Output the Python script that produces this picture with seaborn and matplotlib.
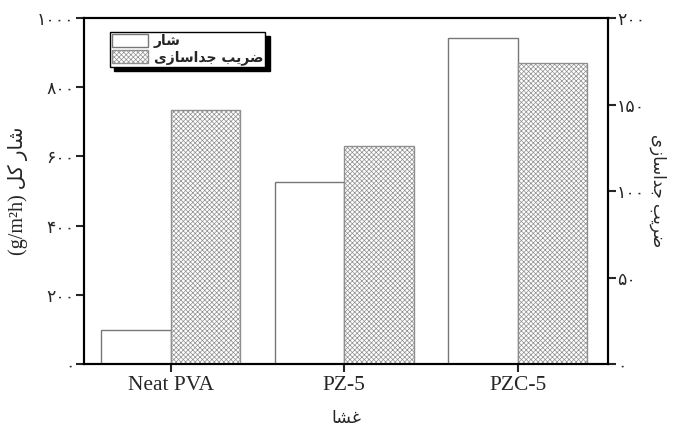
import numpy as np
import pandas as pd
import matplotlib
matplotlib.use("Agg")
import matplotlib.pyplot as plt
import seaborn as sns
from matplotlib.patches import Patch

# ---- data ----
membranes = ["Neat PVA", "PZ-5", "PZC-5"]
flux = [98, 526, 941]
separation = [147, 126, 174]
left_ticks = [0, 200, 400, 600, 800, 1000]
right_ticks = [0, 50, 100, 150, 200]

# ---- minimal Persian shaping (matplotlib has no complex text layout) ----
FORMS = {
    "\u0627": ("\uFE8D", "\uFE8E", None, None),
    "\u0628": ("\uFE8F", "\uFE90", "\uFE91", "\uFE92"),
    "\u062C": ("\uFE9D", "\uFE9E", "\uFE9F", "\uFEA0"),
    "\u062F": ("\uFEA9", "\uFEAA", None, None),
    "\u0631": ("\uFEAD", "\uFEAE", None, None),
    "\u0632": ("\uFEAF", "\uFEB0", None, None),
    "\u0633": ("\uFEB1", "\uFEB2", "\uFEB3", "\uFEB4"),
    "\u0634": ("\uFEB5", "\uFEB6", "\uFEB7", "\uFEB8"),
    "\u0636": ("\uFEBD", "\uFEBE", "\uFEBF", "\uFEC0"),
    "\u063A": ("\uFECD", "\uFECE", "\uFECF", "\uFED0"),
    "\u0644": ("\uFEDD", "\uFEDE", "\uFEDF", "\uFEE0"),
    "\u06A9": ("\uFB8E", "\uFB8F", "\uFB90", "\uFB91"),
    "\u06CC": ("\uFBFC", "\uFBFD", "\uFBFE", "\uFBFF"),
}


def shape(s):
    out = []
    for i, ch in enumerate(s):
        if ch not in FORMS:
            out.append(ch)
            continue
        iso, fin, ini, med = FORMS[ch]
        prev = s[i - 1] if i > 0 else None
        nxt = s[i + 1] if i + 1 < len(s) else None
        jp = prev in FORMS and FORMS[prev][2] is not None
        jn = ini is not None and nxt in FORMS
        if jp and jn:
            out.append(med)
        elif jp:
            out.append(fin)
        elif jn:
            out.append(ini)
        else:
            out.append(iso)
    return "".join(reversed(out))


def fa_digits(n):
    return "".join("۰۱۲۳۴۵۶۷۸۹"[int(c)] for c in str(n))


lbl_flux = "شار"
lbl_sep = "ضریب جداسازی"
ylabel_left = "شار کل"
xlabel = "غشا"

# ---- figure ----
sns.set_theme(style="white")
plt.rcParams["font.family"] = ["Liberation Serif", "DejaVu Sans"]
plt.rcParams["hatch.linewidth"] = 0.5

fig = plt.figure(figsize=(6.8, 4.3), dpi=100)
ax1 = fig.add_axes([0.1235, 0.1535, 0.7705, 0.8045])
ax2 = ax1.twinx()

order = ["flux", "sep"]
df1 = pd.DataFrame({"membrane": membranes + membranes,
                    "value": flux + [np.nan] * 3,
                    "series": ["flux"] * 3 + ["sep"] * 3})
df2 = pd.DataFrame({"membrane": membranes + membranes,
                    "value": [np.nan] * 3 + separation,
                    "series": ["flux"] * 3 + ["sep"] * 3})

sns.barplot(data=df1, x="membrane", y="value", hue="series", hue_order=order,
            order=membranes, palette=["white", "white"], edgecolor="#777777",
            linewidth=1.0, width=0.8, ax=ax1, legend=False, errorbar=None)
sns.barplot(data=df2, x="membrane", y="value", hue="series", hue_order=order,
            order=membranes, palette=["white", "white"], edgecolor="#8f8f8f",
            linewidth=1.0, width=0.8, ax=ax2, legend=False, errorbar=None,
            hatch="xxxxxxx")

ax1.set_xlim(-0.5, 2.52)
ax1.set_ylim(0, 1000)
ax2.set_ylim(0, 200)

ax1.set_yticks(left_ticks)
ax1.set_yticklabels([fa_digits(v) for v in left_ticks], family="DejaVu Sans", fontsize=12.5)
ax2.set_yticks(right_ticks)
ax2.set_yticklabels([fa_digits(v) for v in right_ticks], family="DejaVu Sans", fontsize=12.5)
ax1.set_xticks(range(len(membranes)))
ax1.set_xticklabels(membranes, family="Liberation Serif", fontsize=15.5)

for ax in (ax1, ax2):
    for sp in ax.spines.values():
        sp.set_linewidth(1.5)
        sp.set_color("black")
ax1.tick_params(axis="y", direction="out", length=5.5, width=1.5, left=True, pad=1.5)
ax1.tick_params(axis="x", direction="out", length=5.5, width=1.5, bottom=True, pad=3)
ax2.tick_params(axis="y", direction="out", length=5.5, width=1.5, right=True, pad=1)

ax1.set_xlabel(shape(xlabel), family="DejaVu Sans", fontsize=12.5, labelpad=10)
ax1.set_ylabel("(g/m²h) " + shape(ylabel_left),
               family=["Liberation Serif", "DejaVu Sans"], fontsize=14.5, labelpad=6)
ax2.set_ylabel(shape(lbl_sep), family="DejaVu Sans", fontsize=12,
               rotation=270, labelpad=16)

handles = [Patch(facecolor="white", edgecolor="#777777", linewidth=1.0),
           Patch(facecolor="white", edgecolor="#8f8f8f", linewidth=1.0, hatch="xxxxxxx")]
leg = ax2.legend(handles, [shape(lbl_flux), shape(lbl_sep)],
                 loc="upper left", bbox_to_anchor=(0.05, 0.96), borderaxespad=0,
                 frameon=True, fancybox=False, framealpha=1, edgecolor="black",
                 shadow={"color": "black", "alpha": 1, "ox": 3, "oy": -3},
                 prop={"family": "DejaVu Sans", "weight": "bold", "size": 10},
                 handlelength=2.6, handleheight=1.1, labelspacing=0.12,
                 borderpad=0.15, handletextpad=0.4)
leg.get_frame().set_linewidth(1.0)

fig.savefig("out.png", dpi=100)
